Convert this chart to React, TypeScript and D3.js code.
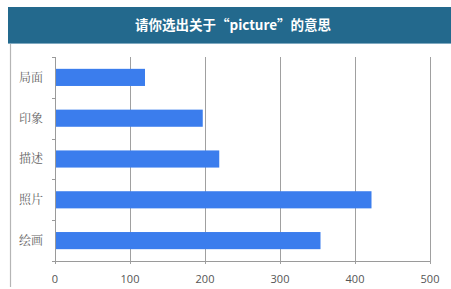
import React from "react";
import * as d3 from "d3";

const categories = ["局面", "印象", "描述", "照片", "绘画"];
const values = [120, 197, 219, 422, 354];
const xTicks = [0, 100, 200, 300, 400, 500];
const title = "请你选出关于“picture”的意思";

export default function App() {
  const W = 451, H = 289;
  const left = 55, right = 430, top = 57, bottom = 261;
  const x = d3.scaleLinear().domain([0, 500]).range([left, right]);
  const y = d3.scaleBand().domain(categories).range([top, bottom]).paddingInner(0.58).paddingOuter(0.29);
  const bandEdges = d3.range(categories.length + 1).map((i) => top + (i * (bottom - top)) / categories.length);
  return (
    <svg width={W} height={H} style={{ position: "absolute", left: 0, top: 0 }}>
      <rect x={0} y={0} width={W} height={H} fill="#fff" />
      <rect x={8} y={7} width={W - 8} height={36} fill="#23698d" />
      <line x1={8} x2={W} y1={43.5} y2={43.5} stroke="#7fa9c0" strokeWidth={1} />
      <text x={233} y={29.5} textAnchor="middle" fill="#fff" fontSize={13.5} fontWeight="bold"
        fontFamily="'Noto Sans CJK SC', 'Noto Sans', sans-serif">{title}</text>
      <line x1={10.5} x2={10.5} y1={44} y2={287} stroke="#b5b5b5" strokeWidth={1.2} />
      {xTicks.slice(1).map((t) => (
        <line key={t} x1={Math.round(x(t)) + 0.5} x2={Math.round(x(t)) + 0.5} y1={top} y2={bottom + 3} stroke="#a0a0a0" strokeWidth={1} />
      ))}
      {categories.map((c, i) => (
        <rect key={c} x={x(0)} y={y(c)} width={x(values[i]) - x(0)} height={y.bandwidth()} fill="#3b7ded" />
      ))}
      <line x1={left + 0.5} x2={left + 0.5} y1={top} y2={bottom + 3} stroke="#9a9a9a" strokeWidth={1} />
      <line x1={left} x2={right} y1={bottom + 0.5} y2={bottom + 0.5} stroke="#9a9a9a" strokeWidth={1} />
      {bandEdges.map((e, i) => (
        <line key={i} x1={left - 3} x2={left} y1={Math.round(e) + 0.5} y2={Math.round(e) + 0.5} stroke="#9a9a9a" strokeWidth={1} />
      ))}
      {categories.map((c) => (
        <text key={c} x={43} y={y(c)! + y.bandwidth() / 2} dy="0.36em" textAnchor="end" fill="#666" fontSize={12}
          fontFamily="'Noto Serif CJK SC', 'Noto Sans CJK SC', serif">{c}</text>
      ))}
      {xTicks.map((t) => (
        <text key={t} x={x(t)} y={279} dy="0.36em" textAnchor="middle" fill="#555" fontSize={11}
          fontFamily="'Open Sans', 'Noto Sans', sans-serif">{t}</text>
      ))}
    </svg>
  );
}
